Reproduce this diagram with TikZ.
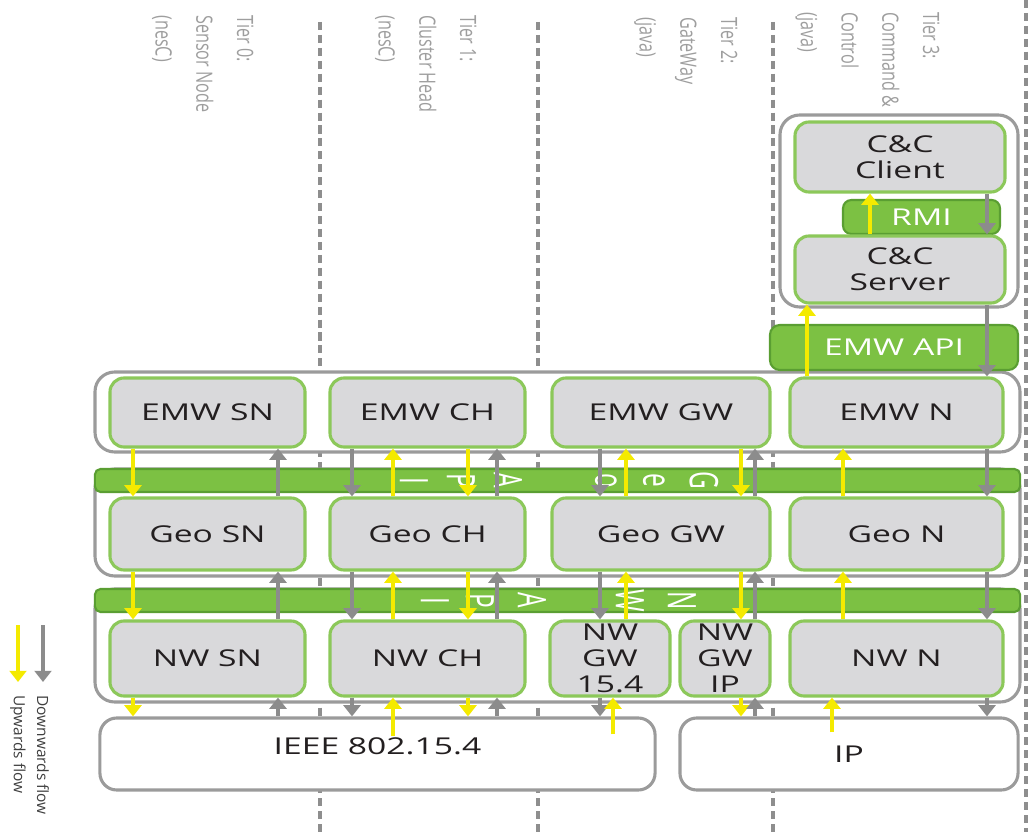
\documentclass[tikz,border=0pt]{standalone}
\usepackage{fontspec}
\setmainfont{Open Sans}
\newfontfamily\modfont[FakeStretch=1.45]{Open Sans}
\newfontfamily\tierfont[FakeStretch=0.72]{Open Sans}
\newfontfamily\letterfont[FakeStretch=0.62]{Open Sans}
\usetikzlibrary{arrows.meta, positioning, calc}
\definecolor{modgray}{HTML}{D9D9DB}
\definecolor{modgreen}{HTML}{8CC85A}
\definecolor{bargreen}{HTML}{7CC143}
\definecolor{bardark}{HTML}{5A9E32}
\definecolor{framegray}{HTML}{9B9B9B}
\definecolor{dashgray}{HTML}{8E8E8E}
\definecolor{flowyellow}{HTML}{F4EA00}
\definecolor{flowgray}{HTML}{8C8C8C}
\definecolor{tiergray}{HTML}{9E9E9E}
\definecolor{legendgray}{HTML}{404040}
\definecolor{inkdark}{HTML}{231F20}

\tikzset{
  modbox/.style={draw=modgreen, fill=modgray, line width=2.2pt, rounded corners=10pt,
    inner sep=0pt, align=center, text=inkdark, font=\modfont\fontsize{16.5pt}{18.5pt}\selectfont},
  apibar/.style={draw=bardark, fill=bargreen, line width=1.5pt, rounded corners=4pt,
    inner sep=0pt, text=white, font=\modfont\fontsize{16.5pt}{18.5pt}\selectfont},
  netbox/.style={draw=framegray, fill=white, line width=2.2pt, rounded corners=12pt,
    inner sep=0pt, text=inkdark, font=\modfont\fontsize{16.5pt}{18.5pt}\selectfont},
  tierframe/.style={draw=framegray, fill=white, line width=2.2pt, rounded corners=14pt},
  tierline/.style={dashgray, line width=2.8pt, dash pattern=on 5.7pt off 3.5pt},
  tierlabel/.style={rotate=-90, anchor=north west, inner sep=0pt, align=left,
    text=tiergray, font=\tierfont\fontsize{16pt}{29pt}\selectfont},
  apiletter/.style={rotate=-90, inner sep=0pt, text=white,
    font=\letterfont\fontsize{28pt}{28pt}\selectfont},
  legendlabel/.style={rotate=-90, anchor=west, inner sep=0pt, text=legendgray,
    font=\fontsize{11pt}{13pt}\selectfont},
  yflow/.style={flowyellow, line width=2.4pt, ->},
  gflow/.style={flowgray, line width=2.4pt, ->}
}

\begin{document}
\begin{tikzpicture}[x=0.025cm, y=-0.025cm, >={Triangle[length=8pt, width=12pt]}]

\useasboundingbox (0,0) rectangle (1033,832);

% Tier separators
\foreach \x in {320,538,773}
  \draw[tierline] (\x,22) -- (\x,832);
\draw[tierline] (1026,0) -- (1026,832);

% Tier labels
\node[tierlabel] (tier0) at (254,15) {Tier 0:\\Sensor Node\\(nesC)};
\node[tierlabel] (tier1) at (477,15) {Tier 1:\\Cluster Head\\(nesC)};
\node[tierlabel] (tier2) at (738,17) {Tier 2:\\GateWay\\(java)};
\node[tierlabel] (tier3) at (940,12) {Tier 3:\\Command \&\\Control\\(java)};

% Containers
\draw[tierframe] (780,115) rectangle (1018,307);
\draw[tierframe] (95,372) rectangle (1020,452);
\draw[tierframe] (95,469) rectangle (1020,576);
\draw[tierframe] (95,589) rectangle (1020,702);

% API bars
\node[apibar, minimum width=23.125cm, minimum height=0.575cm] (geoapi) at (557.5,480.5) {};
\node[apibar, minimum width=23.125cm, minimum height=0.575cm] (nwapi) at (557.5,600.5) {};
\node[apibar, minimum width=6.2cm, minimum height=1.125cm, rounded corners=7pt] (emwapi) at (894,347.5) {EMW API};
\node[apibar, minimum width=3.925cm, minimum height=0.85cm, rounded corners=6pt] (rmi) at (921.5,217) {RMI};

% Vertical API names
\foreach \ch/\x in {G/704, e/654, o/606, A/508, P/461, I/414}
  \node[apiletter] (geo\x) at (\x,480.5) {\ch};
\foreach \ch/\x in {N/682, W/630, A/532, P/480, I/435}
  \node[apiletter] (nw\x) at (\x,600.5) {\ch};

% Command & Control
\node[modbox, minimum width=5.25cm, minimum height=1.75cm] (ccclient) at (900,157) {C\&C\\Client};
\node[modbox, minimum width=5.25cm, minimum height=1.675cm] (ccserver) at (900,269.5) {C\&C\\Server};

% EMW row
\node[modbox, minimum width=4.875cm, minimum height=1.725cm] (emwsn) at (207.5,412.5) {EMW SN};
\node[modbox, minimum width=4.875cm, minimum height=1.725cm] (emwch) at (427.5,412.5) {EMW CH};
\node[modbox, minimum width=5.45cm, minimum height=1.725cm] (emwgw) at (661,412.5) {EMW GW};
\node[modbox, minimum width=5.325cm, minimum height=1.725cm] (emwn) at (896.5,412.5) {EMW N};

% Geo row
\node[modbox, minimum width=4.875cm, minimum height=1.8cm] (geosn) at (207.5,534) {Geo SN};
\node[modbox, minimum width=4.875cm, minimum height=1.8cm] (geoch) at (427.5,534) {Geo CH};
\node[modbox, minimum width=5.45cm, minimum height=1.8cm] (geogw) at (661,534) {Geo GW};
\node[modbox, minimum width=5.325cm, minimum height=1.8cm] (geon) at (896.5,534) {Geo N};

% NW row
\node[modbox, minimum width=4.875cm, minimum height=1.875cm] (nwsn) at (207.5,658.5) {NW SN};
\node[modbox, minimum width=4.875cm, minimum height=1.875cm] (nwch) at (427.5,658.5) {NW CH};
\node[modbox, minimum width=3cm, minimum height=1.875cm] (nwgwa) at (610,658.5) {NW\\GW\\15.4};
\node[modbox, minimum width=2.25cm, minimum height=1.875cm] (nwgwb) at (725,658.5) {NW\\GW\\IP};
\node[modbox, minimum width=5.325cm, minimum height=1.875cm] (nwn) at (896.5,658.5) {NW N};

% Networks
\node[netbox, minimum width=13.875cm, minimum height=1.8cm, text height=12pt, text depth=12pt] (ieee) at (377.5,754) {IEEE 802.15.4};
\node[netbox, minimum width=8.45cm, minimum height=1.8cm] (ipnet) at (849,754) {IP};

% Flow lanes
\coordinate (snY) at (133,0);  \coordinate (snG) at (278,0);
\coordinate (chG) at (352,0);  \coordinate (chY) at (393,0);
\coordinate (chYd) at (468,0); \coordinate (chGu) at (497,0);
\coordinate (gwG) at (600,0);  \coordinate (gwY) at (626,0);
\coordinate (gwYb) at (613,0);
\coordinate (gwYd) at (741,0); \coordinate (gwGu) at (755,0);
\coordinate (nY) at (843,0);   \coordinate (nYb) at (832,0);
\coordinate (nG) at (987,0);   \coordinate (nYt) at (807,0);
\coordinate (ccY) at (870,0);

% Sensor node column
\foreach \a/\b in {emwsn/geosn, geosn/nwsn, nwsn/ieee} {
  \draw[yflow] (\a.south -| snY) -- (\b.north -| snY);
  \draw[gflow] (\b.north -| snG) -- (\a.south -| snG);
}

% Cluster head column
\foreach \a/\b in {emwch/geoch, geoch/nwch, nwch/ieee} {
  \draw[gflow] (\a.south -| chG) -- (\b.north -| chG);
  \draw[yflow] (\a.south -| chYd) -- (\b.north -| chYd);
  \draw[gflow] (\b.north -| chGu) -- (\a.south -| chGu);
}
\draw[yflow] (geoch.north -| chY) -- (emwch.south -| chY);
\draw[yflow] (nwch.north -| chY) -- (geoch.south -| chY);
\draw[yflow] ($(ieee.north -| chY)+(0,20)$) -- (nwch.south -| chY);

% Gateway column
\foreach \a/\b in {emwgw/geogw, geogw/nwgwa, nwgwa/ieee}
  \draw[gflow] (\a.south -| gwG) -- (\b.north -| gwG);
\draw[yflow] (geogw.north -| gwY) -- (emwgw.south -| gwY);
\draw[yflow] (nwgwa.north -| gwY) -- (geogw.south -| gwY);
\draw[yflow] ($(ieee.north -| gwYb)+(0,18)$) -- (nwgwa.south -| gwYb);
\foreach \a/\b in {emwgw/geogw, geogw/nwgwb, nwgwb/ipnet} {
  \draw[yflow] (\a.south -| gwYd) -- (\b.north -| gwYd);
  \draw[gflow] (\b.north -| gwGu) -- (\a.south -| gwGu);
}

% Node column
\foreach \a/\b in {ccserver/emwn, emwn/geon, geon/nwn, nwn/ipnet}
  \draw[gflow] (\a.south -| nG) -- (\b.north -| nG);
\draw[yflow] (geon.north -| nY) -- (emwn.south -| nY);
\draw[yflow] (nwn.north -| nY) -- (geon.south -| nY);
\draw[yflow] ($(ipnet.north -| nYb)+(0,16)$) -- (nwn.south -| nYb);
\draw[yflow] (emwn.north -| nYt) -- (ccserver.south -| nYt);

% Command & Control flows
\draw[yflow] (ccserver.north -| ccY) -- (ccclient.south -| ccY);
\draw[gflow] (ccclient.south -| nG) -- (ccserver.north -| nG);

% Legend
\coordinate (dntail) at (43,625);  \coordinate (dnhead) at (43,682);
\coordinate (uptail) at (18,625);  \coordinate (uphead) at (18,682);
\draw[gflow] (dntail) -- (dnhead);
\draw[yflow] (uptail) -- (uphead);
\node[legendlabel] (dnlabel) at (43,695) {Downwards flow};
\node[legendlabel] (uplabel) at (18,695) {Upwards flow};

\end{tikzpicture}
\end{document}
